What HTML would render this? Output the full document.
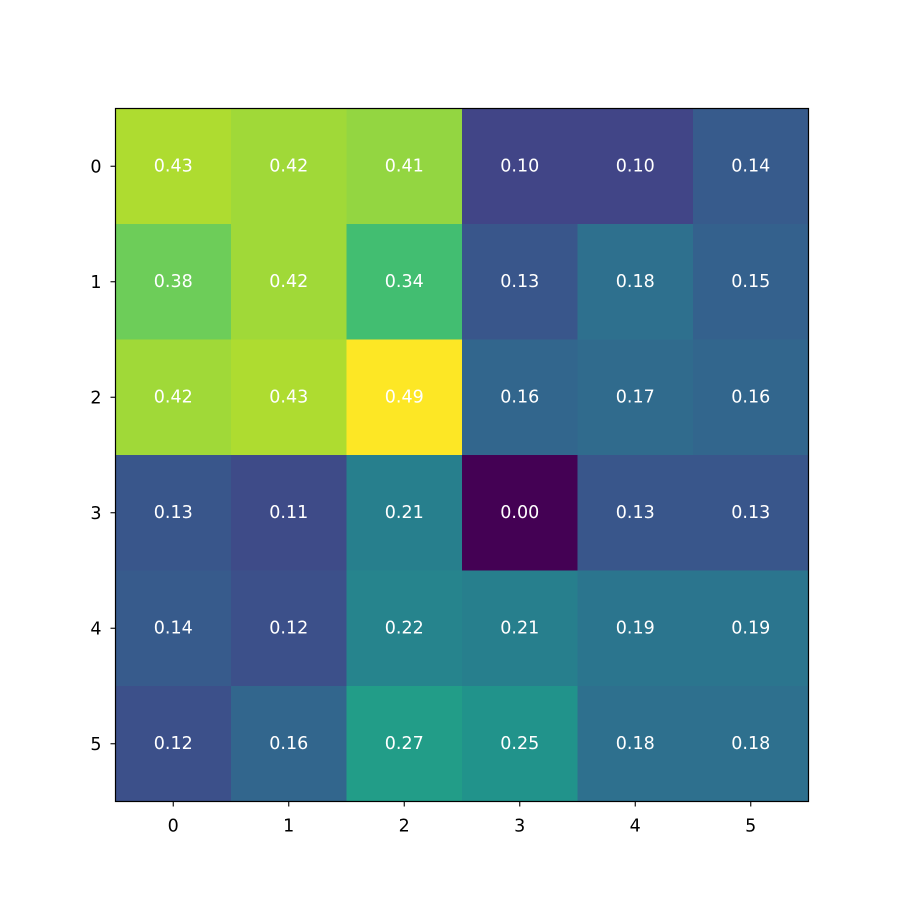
<!DOCTYPE html>
<html>
<head>
<meta charset="utf-8">
<style>
  html, body { margin: 0; padding: 0; background: #ffffff; }
  svg { display: block; font-family: "DejaVu Sans", "Liberation Sans", sans-serif; }
</style>
</head>
<body>
<svg id="chart" width="900" height="900" viewBox="0 0 900 900">
  <g id="cells"></g>
  <g id="labels"></g>
  <rect x="115.5" y="108.5" width="693" height="693" fill="none" stroke="#000" stroke-width="1.2"></rect>
  <g id="xaxis"></g>
  <g id="yaxis"></g>
</svg>
<script>
const rowLabels = ["0","1","2","3","4","5"];
const colLabels = ["0","1","2","3","4","5"];
const row0 = [0.43, 0.42, 0.41, 0.10, 0.10, 0.14];
const row1 = [0.38, 0.42, 0.34, 0.13, 0.18, 0.15];
const row2 = [0.42, 0.43, 0.49, 0.16, 0.17, 0.16];
const row3 = [0.13, 0.11, 0.21, 0.00, 0.13, 0.13];
const row4 = [0.14, 0.12, 0.22, 0.21, 0.19, 0.19];
const row5 = [0.12, 0.16, 0.27, 0.25, 0.18, 0.18];
const values = [row0, row1, row2, row3, row4, row5];

const NS = "http://www.w3.org/2000/svg";
const plotLeft = 115.5, plotTop = 108.5, plotSize = 693;
const nC = colLabels.length, nR = rowLabels.length;
const cw = plotSize / nC, ch = plotSize / nR;
const xPos = i => plotLeft + i * cw;
const yPos = j => plotTop + j * ch;

const vir = ["#440154","#482475","#414487","#355f8d","#2a788e","#21918c","#22a884","#44bf70","#7ad151","#bddf26","#fde725"];
function hex(h){return [1,3,5].map(k=>parseInt(h.substr(k,2),16));}
function viridis(t){
  t = Math.max(0, Math.min(1, t));
  const p = t * 10, i = Math.min(9, Math.floor(p)), f = p - i;
  const a = hex(vir[i]), b = hex(vir[i+1]);
  return "rgb(" + a.map((v,k)=>Math.round(v + (b[k]-v)*f)).join(",") + ")";
}
const allVals = values.flat();
const vmin = Math.min(...allVals), vmax = Math.max(...allVals);

const cellsG = document.getElementById("cells");
const labelsG = document.getElementById("labels");
values.forEach((row, j) => {
  row.forEach((v, i) => {
    const r = document.createElementNS(NS, "rect");
    r.setAttribute("x", xPos(i));
    r.setAttribute("y", yPos(j));
    r.setAttribute("width", cw + 0.5);
    r.setAttribute("height", ch + 0.5);
    r.setAttribute("fill", viridis((v - vmin) / (vmax - vmin)));
    
    
    cellsG.appendChild(r);
    const t = document.createElementNS(NS, "text");
    t.setAttribute("x", xPos(i) + cw / 2);
    t.setAttribute("y", yPos(j) + ch / 2 + 5);
    t.setAttribute("text-anchor", "middle");
    t.setAttribute("font-size", "17.5");
    t.setAttribute("fill", "#ffffff");
    t.textContent = v.toFixed(2);
    
    
    labelsG.appendChild(t);
  });
});

const xaxisG = document.getElementById("xaxis");
colLabels.forEach((lab, i) => {
  const x = xPos(i) + cw / 2;
  const l = document.createElementNS(NS, "line");
  l.setAttribute("x1", x); l.setAttribute("x2", x);
  l.setAttribute("y1", plotTop + plotSize); l.setAttribute("y2", plotTop + plotSize + 5);
  l.setAttribute("stroke", "#000"); l.setAttribute("stroke-width", "1.1");
  
  
  xaxisG.appendChild(l);
  const t = document.createElementNS(NS, "text");
  t.setAttribute("x", x); t.setAttribute("y", plotTop + plotSize + 30);
  t.setAttribute("text-anchor", "middle"); t.setAttribute("font-size", "17.5");
  t.textContent = lab;
  
  
  xaxisG.appendChild(t);
});
const yaxisG = document.getElementById("yaxis");
rowLabels.forEach((lab, j) => {
  const y = yPos(j) + ch / 2;
  const l = document.createElementNS(NS, "line");
  l.setAttribute("x1", plotLeft - 5); l.setAttribute("x2", plotLeft);
  l.setAttribute("y1", y); l.setAttribute("y2", y);
  l.setAttribute("stroke", "#000"); l.setAttribute("stroke-width", "1.1");
  
  
  yaxisG.appendChild(l);
  const t = document.createElementNS(NS, "text");
  t.setAttribute("x", plotLeft - 14); t.setAttribute("y", y + 6);
  t.setAttribute("text-anchor", "end"); t.setAttribute("font-size", "17.5");
  t.textContent = lab;
  
  
  yaxisG.appendChild(t);
});
</script>
</body>
</html>
